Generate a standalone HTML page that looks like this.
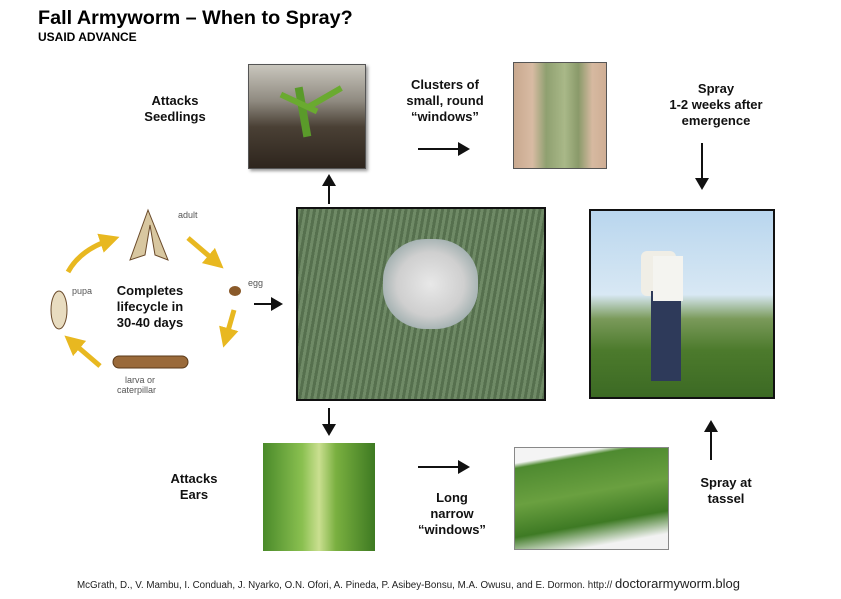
<!DOCTYPE html>
<html><head><meta charset="utf-8"><style>
body{margin:0;width:841px;height:599px;background:#fff;position:relative;overflow:hidden;font-family:"Liberation Sans",Arial,sans-serif;}
.a{position:absolute}
.t{position:absolute;font-weight:bold;font-size:13px;line-height:16px;text-align:center;color:#111}
.ph{position:absolute;box-sizing:border-box}
</style></head><body>
<div class="a" style="left:38px;top:7px;font-size:19.8px;font-weight:bold;">Fall Armyworm – When to Spray?</div>
<div class="a" style="left:38px;top:30px;font-size:12px;font-weight:bold;">USAID ADVANCE</div>

<div class="ph" style="left:248px;top:64px;width:118px;height:105px;border:1px solid #555;box-shadow:2px 2px 3px #999;background:linear-gradient(180deg,#c9c6bd 0%,#8f8a80 35%,#4a4035 60%,#2e251d 100%);">
<div class="a" style="left:50px;top:22px;width:8px;height:50px;background:#5a9a2a;transform:rotate(-10deg)"></div>
<div class="a" style="left:30px;top:35px;width:40px;height:6px;background:#6aaa30;transform:rotate(25deg)"></div>
<div class="a" style="left:55px;top:30px;width:40px;height:6px;background:#6aaa30;transform:rotate(-30deg)"></div></div>
<div class="ph" style="left:513px;top:62px;width:94px;height:107px;border:1px solid #555;background:linear-gradient(90deg,#c9a98f 0%,#d8bba3 20%,#8fa070 35%,#a9b888 55%,#8a9a6a 70%,#d6b9a0 85%,#cfae95 100%);"></div>
<div class="ph" style="left:296px;top:207px;width:250px;height:194px;border:2px solid #111;background:repeating-linear-gradient(100deg,#6f8a66 0 3px,#56704e 3px 6px);">
<div class="a" style="left:85px;top:30px;width:95px;height:90px;border-radius:45%;background:radial-gradient(#e8e8e8 0%,#cfcfcf 50%,#9aa 80%,transparent 100%)"></div></div>
<div class="ph" style="left:589px;top:209px;width:186px;height:190px;border:2px solid #111;background:linear-gradient(180deg,#b9d6ee 0%,#d8e8f4 45%,#7a9a5a 58%,#4c7a2c 75%,#3c6a24 100%);">
<div class="a" style="left:50px;top:40px;width:35px;height:45px;background:#f0eee6;border-radius:6px"></div>
<div class="a" style="left:60px;top:80px;width:30px;height:90px;background:#2e3a5a"></div>
<div class="a" style="left:62px;top:45px;width:30px;height:45px;background:#f4f4f0"></div></div>
<div class="ph" style="left:263px;top:443px;width:112px;height:108px;background:linear-gradient(90deg,#4a8a2a,#8ac050 35%,#cadf90 50%,#7ab040 65%,#3e7a22);"></div>
<div class="ph" style="left:514px;top:447px;width:155px;height:103px;border:1px solid #888;background:linear-gradient(170deg,#f4f4f4 0%,#f4f4f4 12%,#4e8a30 16%,#6aa040 45%,#3e7a24 70%,#f2f2f2 88%);"></div>

<div class="t" style="left:115px;top:93px;width:120px">Attacks<br>Seedlings</div>
<div class="t" style="left:385px;top:77px;width:120px">Clusters of<br>small, round<br>“windows”</div>
<div class="t" style="left:656px;top:81px;width:120px">Spray<br>1-2 weeks after<br>emergence</div>
<div class="t" style="left:134px;top:471px;width:120px">Attacks<br>Ears</div>
<div class="t" style="left:392px;top:490px;width:120px">Long<br>narrow<br>“windows”</div>
<div class="t" style="left:666px;top:475px;width:120px">Spray at<br>tassel</div>
<div class="t" style="left:90px;top:283px;width:120px">Completes<br>lifecycle in<br>30-40 days</div>

<svg class="a" style="left:0;top:0" width="841" height="599">
<defs><marker id="m" markerWidth="6" markerHeight="8" refX="5" refY="4" orient="auto" markerUnits="strokeWidth"><path d="M0,0.5 L6,4 L0,7.5 z" fill="#111"/></marker>
<marker id="y" markerWidth="4" markerHeight="4" refX="2" refY="2" orient="auto"><path d="M0,0 L4,2 L0,4 z" fill="#e8b820"/></marker></defs>
<g stroke="#111" stroke-width="2" marker-end="url(#m)">
<line x1="329" y1="204" x2="329" y2="176"/>
<line x1="418" y1="149" x2="468" y2="149"/>
<line x1="702" y1="143" x2="702" y2="188"/>
<line x1="254" y1="304" x2="281" y2="304"/>
<line x1="329" y1="408" x2="329" y2="434"/>
<line x1="418" y1="467" x2="468" y2="467"/>
<line x1="711" y1="460" x2="711" y2="422"/>
</g>
<g stroke="#e8b820" stroke-width="5" fill="none" marker-end="url(#y)">
<path d="M68,272 Q80,250 110,240"/>
<path d="M188,238 L216,262"/>
<path d="M234,310 L226,338"/>
<path d="M100,366 L72,342"/>
</g>
<g fill="#8a5a2a">
<path d="M148,210 L130,260 L145,255 L150,225 L155,255 L168,260 Z" fill="#d8c7a0" stroke="#6a4a2a"/>
<ellipse cx="235" cy="291" rx="6" ry="5"/>
<rect x="113" y="356" width="75" height="12" rx="6" fill="#9a6a3a" stroke="#5a3a1a"/>
<ellipse cx="59" cy="310" rx="8" ry="19" fill="#e8dcc0" stroke="#6a4a2a"/>
</g>
<g font-family="Liberation Sans,sans-serif" font-size="9" fill="#555">
<text x="178" y="218">adult</text><text x="248" y="286">egg</text><text x="72" y="294">pupa</text>
<text x="125" y="383">larva or</text><text x="117" y="393">caterpillar</text>
</g>
</svg>
<div class="a" style="left:77px;top:576px;font-size:9.8px;color:#222;white-space:nowrap">McGrath, D., V. Mambu, I. Conduah, J. Nyarko, O.N. Ofori, A. Pineda, P. Asibey-Bonsu, M.A. Owusu, and E. Dormon. http:// <span style="font-size:13px">doctorarmyworm.blog</span></div>
</body></html>
